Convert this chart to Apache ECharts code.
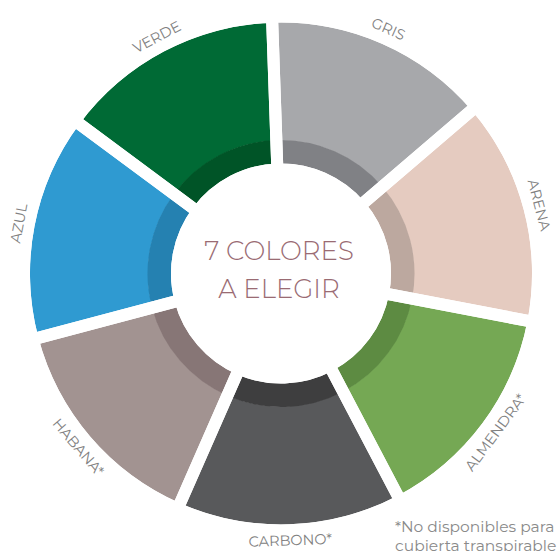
<!DOCTYPE html>
<html>
<head>
<meta charset="utf-8">
<script src="https://cdn.jsdelivr.net/npm/echarts@6/dist/echarts.min.js"></script>
<style>
html,body{margin:0;padding:0;background:#fff;overflow:hidden;}
#main{width:558px;height:551px;}
</style>
</head>
<body>
<div id="main"></div>
<script>
// ---- data ----
var categories = ['GRIS', 'ARENA', 'ALMENDRA*', 'CARBONO*', 'HABANA*', 'AZUL', 'VERDE'];
var shares = [1, 1, 1, 1, 1, 1, 1];
var centerLines = ['7 COLORES', 'A ELEGIR'];
var footnoteLines = ['*No disponibles para', 'cubierta transpirable'];

// ---- styles ----
var outerColors = ['#A7A8AB', '#E5CBC0', '#75A854', '#58595B', '#A29391', '#2F9AD1', '#006A35'];
var innerColors = ['#808185', '#BCA89F', '#5D8B42', '#3E3E3F', '#877676', '#2581B1', '#005427'];

var FONT = "'Montserrat','DejaVu Sans',sans-serif";
var C = [281, 273.5];
var START = 92;

function items(colors) {
  return categories.map(function (c, i) {
    return { name: c, value: shares[i], itemStyle: colors ? { color: colors[i] } : undefined };
  });
}

var chart = echarts.init(document.getElementById('main'), null, { renderer: 'svg' });
chart.setOption({
  animation: false,
  backgroundColor: '#ffffff',
  series: [
    {
      type: 'pie', silent: true, center: C, radius: [133, 251], startAngle: START,
      label: { show: false }, labelLine: { show: false },
      data: items(outerColors), z: 1
    },
    {
      type: 'pie', silent: true, center: C, radius: [110, 133.5], startAngle: START,
      label: { show: false }, labelLine: { show: false },
      data: items(innerColors), z: 2
    },
    {
      // white separators between segments
      type: 'pie', silent: true, center: C, radius: [104, 257], startAngle: START,
      label: { show: false }, labelLine: { show: false },
      itemStyle: { color: 'rgba(0,0,0,0)', borderColor: '#ffffff', borderWidth: 12, borderJoin: 'bevel' },
      data: items(null), z: 3
    },
    {
      // tangential labels ring
      type: 'pie', silent: true, center: C, radius: [257, 271], startAngle: START,
      itemStyle: { color: 'rgba(0,0,0,0)' },
      label: {
        show: true, position: 'inside', rotate: 'tangential',
        color: '#818181', fontFamily: FONT, fontSize: 14.5, formatter: '{b}'
      },
      labelLine: { show: false },
      data: items(null), z: 4
    }
  ],
  graphic: [
    {
      type: 'text', left: 'center', top: 232, z: 10,
      style: {
        text: centerLines.join('\n'), fill: '#9A6B73', font: '300 26px ' + FONT,
        textAlign: 'center', lineHeight: 38
      }
    },
    {
      type: 'text', left: 395, top: 517, z: 10,
      style: {
        text: footnoteLines.join('\n'), fill: '#8a8a8a', font: '15.5px ' + FONT,
        lineHeight: 19
      }
    }
  ]
});
</script>
</body>
</html>
